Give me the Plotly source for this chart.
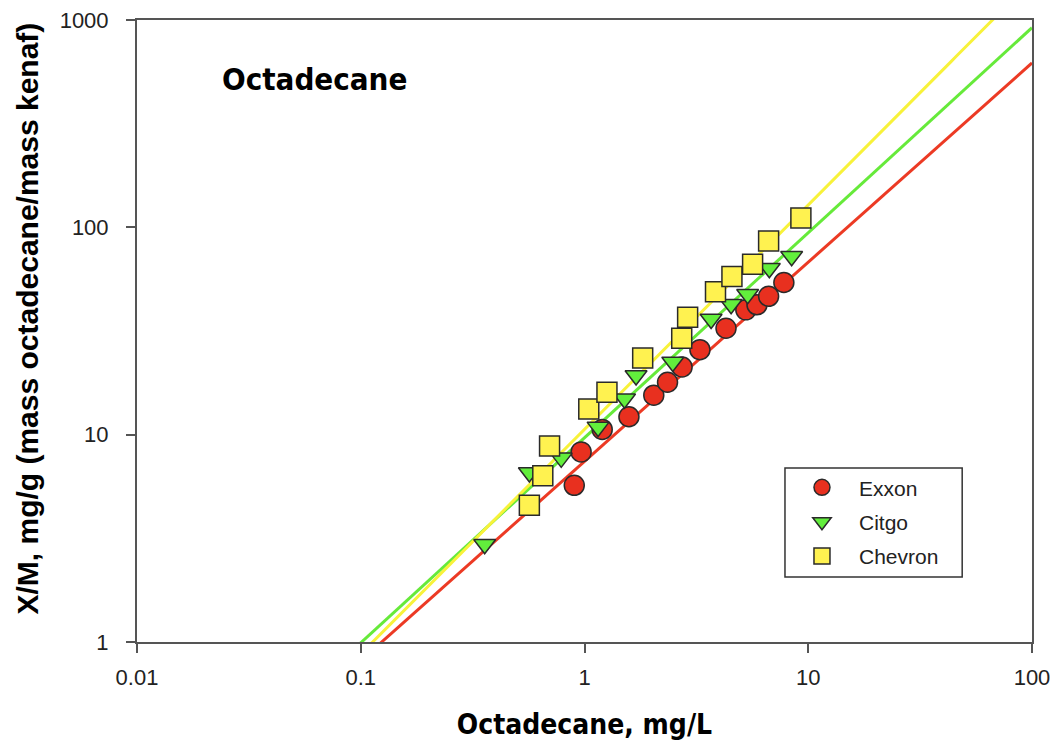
import numpy as np
import plotly.graph_objects as go

# ---- data ----
exxon_x = [0.90, 0.966, 1.20, 1.58, 2.04, 2.35, 2.73, 3.28, 4.29, 5.26, 5.90, 6.65, 7.78]
exxon_y = [5.70, 8.26, 10.6, 12.2, 15.5, 17.9, 21.2, 25.7, 32.6, 40.0, 42.3, 46.5, 54.2]

citgo_x = [0.358, 0.567, 0.787, 1.15, 1.51, 1.70, 2.48, 3.68, 4.52, 5.36, 6.70, 8.43]
citgo_y = [2.96, 6.57, 7.73, 10.9, 14.9, 19.3, 22.4, 36.1, 42.6, 47.6, 63.5, 72.5]

chevron_x = [0.567, 0.651, 0.698, 1.045, 1.26, 1.82, 2.72, 2.89, 3.85, 4.56, 5.64, 6.65, 9.27]
chevron_y = [4.57, 6.33, 8.82, 13.3, 16.0, 23.4, 29.2, 36.8, 48.9, 57.9, 66.4, 86.0, 111.0]

# Freundlich fit parameters (K at C=1, exponent 1/n)
series_names = ["Exxon", "Citgo", "Chevron"]
fit_K = [7.43, 9.66, 10.6]
fit_slope = [0.961, 0.989, 1.083]

x_tick_vals = [0.01, 0.1, 1, 10, 100]
x_tick_text = ["0.01", "0.1", "1", "10", "100"]
y_tick_vals = [1, 10, 100, 1000]
y_tick_text = ["1", "10", "100", "1000"]

# ---- styling ----
fill_colors = ["#E8301F", "#62EE3C", "#FFF250"]
line_colors = ["#EC3A24", "#66EA3A", "#F8F23A"]
symbols = ["circle", "triangle-down", "square"]
sizes = [20, 19, 20]

fig = go.Figure()

xs_all = [exxon_x, citgo_x, chevron_x]
ys_all = [exxon_y, citgo_y, chevron_y]

# fit lines
xline = np.logspace(-2, 2, 200)
for i in range(3):
    yline = fit_K[i] * xline ** fit_slope[i]
    fig.add_trace(go.Scatter(
        x=xline, y=yline, mode="lines",
        line=dict(color=line_colors[i], width=3),
        showlegend=False, hoverinfo="skip"))

for i in range(3):
    fig.add_trace(go.Scatter(
        x=xs_all[i], y=ys_all[i], mode="markers", name=series_names[i],
        legendgroup=series_names[i],
        marker=dict(symbol=symbols[i], size=sizes[i], color=fill_colors[i],
                    line=dict(color="#2a2a2a", width=1.5)),
        cliponaxis=False))

axis_common = dict(
    type="log", showgrid=False, zeroline=False, automargin=False,
    showline=True, linecolor="#555555", linewidth=2, mirror=True,
    ticks="outside", ticklen=9, tickwidth=2, tickcolor="#555555",
    tickfont=dict(family="Liberation Sans, Arial, sans-serif", size=22, color="#222222"),
)

condensed = "DejaVu Sans Condensed, DejaVu Sans, sans-serif"

fig.update_xaxes(
    range=[-2, 2], tickvals=x_tick_vals, ticktext=x_tick_text,
    ticklabelstandoff=6,
    title=dict(text="<b>Octadecane, mg/L</b>",
               font=dict(family=condensed, size=28, color="#000000"),
               standoff=25),
    **axis_common)
fig.update_yaxes(
    range=[0, 3], tickvals=y_tick_vals, ticktext=y_tick_text,
    ticklabelstandoff=13,
    **axis_common)

# y-axis title (placed as rotated text to match the reference's position)
fig.add_annotation(
    x=-0.1218, y=0.52, xref="paper", yref="paper", xanchor="center", yanchor="middle",
    text="<b>X/M, mg/g (mass octadecane/mass kenaf)</b>", textangle=-90, showarrow=False,
    font=dict(family="Liberation Sans, Arial, sans-serif", size=30, color="#000000"))

fig.add_annotation(
    x=0.093, y=0.905, xref="paper", yref="paper", xanchor="left", yanchor="middle",
    text="<b>Octadecane</b>", showarrow=False,
    font=dict(family=condensed, size=31, color="#000000"))

# legend frame (wider than plotly's auto-sized legend box)
fig.add_shape(
    type="rect", xref="paper", yref="paper",
    x0=0.724, x1=0.922, y0=0.1045, y1=0.2797,
    line=dict(color="#333333", width=1.5), fillcolor="white", layer="below")

fig.update_layout(
    width=1055, height=747,
    margin=dict(l=137, r=23, t=20, b=105),
    paper_bgcolor="white", plot_bgcolor="white",
    showlegend=True,
    legend=dict(
        x=0.724, y=0.281, xanchor="left", yanchor="top",
        bgcolor="rgba(0,0,0,0)", borderwidth=0,
        font=dict(family="Liberation Sans, Arial, sans-serif", size=21, color="#222222"),
        tracegroupgap=4, itemwidth=64, traceorder="grouped",
    ),
)

fig.write_html("out.html")
